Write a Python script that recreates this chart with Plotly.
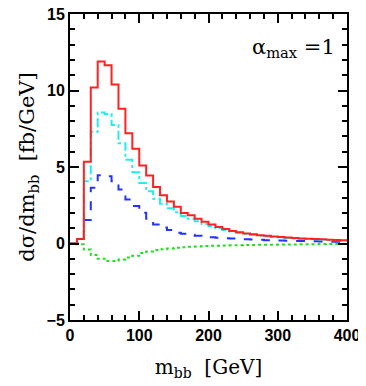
import plotly.graph_objects as go

# bin lower edges (GeV), 10 GeV bins from 0 to 400
bin_lo = [0, 10, 20, 30, 40, 50, 60, 70, 80, 90,
          100, 110, 120, 130, 140, 150, 160, 170, 180, 190,
          200, 210, 220, 230, 240, 250, 260, 270, 280, 290,
          300, 310, 320, 330, 340, 350, 360, 370, 380, 390]
x_end = 400

red = [0.0, 0.3, 5.35, 10.2, 11.9, 11.65, 10.4, 8.8, 7.2, 6.2,
       5.1, 4.45, 3.7, 3.15, 2.75, 2.4, 2.0, 1.85, 1.62, 1.42,
       1.24, 1.08, 0.95, 0.82, 0.74, 0.66, 0.6, 0.54, 0.5, 0.45,
       0.42, 0.39, 0.36, 0.33, 0.31, 0.29, 0.27, 0.25, 0.23, 0.21]
cyan = [0.0, 0.3, 4.07, 7.3, 8.57, 8.46, 7.75, 6.56, 5.47, 4.66,
        3.96, 3.42, 2.92, 2.6, 2.3, 2.05, 1.8, 1.62, 1.45, 1.28,
        1.12, 1.0, 0.88, 0.78, 0.7, 0.63, 0.57, 0.51, 0.46, 0.42,
        0.39, 0.36, 0.33, 0.31, 0.29, 0.27, 0.25, 0.23, 0.21, 0.2]
blue = [0.0, 0.0, 1.54, 3.64, 4.46, 4.4, 4.07, 3.53, 2.88, 2.45,
        2.01, 1.62, 1.25, 1.04, 0.89, 0.71, 0.64, 0.57, 0.5, 0.45,
        0.41, 0.38, 0.35, 0.32, 0.3, 0.28, 0.26, 0.24, 0.22, 0.2,
        0.19, 0.18, 0.17, 0.16, 0.15, 0.14, 0.13, 0.12, 0.11, 0.1]
green = [0.0, -0.05, -0.4, -0.75, -1.0, -1.15, -1.15, -1.05, -0.92, -0.8,
         -0.62, -0.52, -0.43, -0.37, -0.32, -0.27, -0.24, -0.21, -0.19, -0.17,
         -0.15, -0.14, -0.13, -0.12, -0.11, -0.1, -0.09, -0.085, -0.08, -0.075,
         -0.07, -0.065, -0.06, -0.055, -0.05, -0.045, -0.04, -0.035, -0.03, -0.03]


def step(vals, color, dash):
    return go.Scatter(
        x=bin_lo + [x_end],
        y=vals + [vals[-1]],
        mode="lines",
        line=dict(color=color, width=2, dash=dash, shape="hv"),
        showlegend=False,
    )


traces = [
    step(green, "#22dd22", "dot"),
    step(blue, "#2233ff", "dash"),
    step(cyan, "#22eeee", "dashdot"),
    step(red, "#ff2222", "solid"),
]

axis_common = dict(
    showgrid=False, zeroline=False, showline=True, linecolor="black",
    linewidth=2, mirror="allticks", ticks="inside", tickcolor="black",
    ticklen=9, tickwidth=1.5, automargin=False, ticklabeloverflow="allow",
    tickfont=dict(family="Liberation Sans", size=16, color="black", weight="bold"),
)

# page body has an 8px margin, so the figure is a bit smaller than the window
layout = go.Layout(
    width=358, height=378,
    margin=dict(l=62, r=19, t=6, b=66),
    plot_bgcolor="white", paper_bgcolor="white",
    xaxis=dict(
        range=[0, 400], tickvals=[0, 100, 200, 300, 400],
        minor=dict(dtick=20, ticks="inside", ticklen=5, tickcolor="black", tickwidth=1.5),
        title=dict(text="m<sub>bb</sub>  [GeV]", standoff=17,
                   font=dict(family="DejaVu Serif", size=20, color="black")),
        **axis_common
    ),
    yaxis=dict(
        range=[-5, 15], tickvals=[-5, 0, 5, 10, 15],
        minor=dict(dtick=1, ticks="inside", ticklen=5, tickcolor="black", tickwidth=1.5),
        title=dict(text="dσ/dm<sub>bb</sub>  [fb/GeV]", standoff=6,
                   font=dict(family="DejaVu Serif", size=21, color="black")),
        **axis_common
    ),
    annotations=[dict(
        x=0.965, y=0.89, xref="paper", yref="paper", xanchor="right", yanchor="middle",
        text="α<sub>max</sub> =1", showarrow=False,
        font=dict(family="DejaVu Serif", size=21, color="black"),
    )],
)

fig = go.Figure(data=traces, layout=layout)
fig.write_html("out.html")
